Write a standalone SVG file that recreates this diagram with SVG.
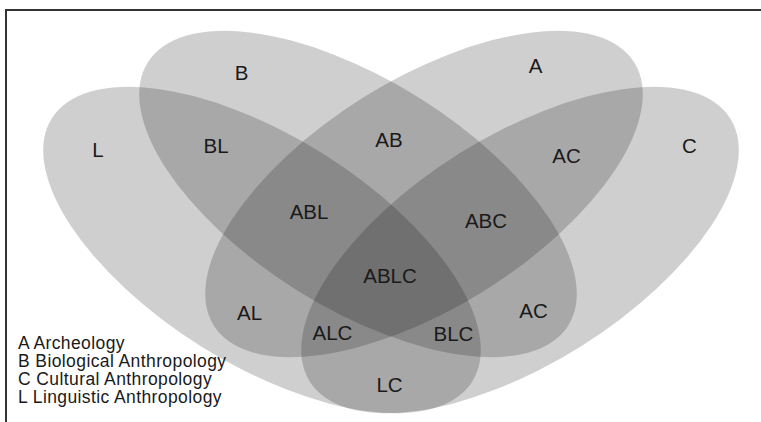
<svg xmlns="http://www.w3.org/2000/svg" width="761" height="422" viewBox="0 0 761 422">
  <defs>
    <style>
      .set { fill: #000004; fill-opacity: 0.19; }
      .lbl { font-family: "Liberation Sans", Arial, Helvetica, sans-serif; font-size: 20.5px; fill: #1a1a1a; text-anchor: middle; }
      .leg { font-family: "Liberation Sans", Arial, Helvetica, sans-serif; font-size: 17.5px; letter-spacing: 0.4px; fill: #1a1a1a; }
      .frame { fill: none; stroke: #333333; stroke-width: 2; }
    </style>
    <filter id="soft" x="-5%" y="-5%" width="110%" height="110%">
      <feGaussianBlur stdDeviation="0.7"/>
    </filter>
  </defs>
  <rect x="0" y="0" width="761" height="422" fill="#ffffff"/>
  <path class="frame" d="M6,422 V10 H761"/>
  <g filter="url(#soft)">
    <g id="set-L"><ellipse class="set" cx="262" cy="250" rx="248" ry="114" transform="rotate(32 262 250)"/></g>
    <g id="set-B"><ellipse class="set" cx="358" cy="194" rx="248" ry="114" transform="rotate(32 358 194)"/></g>
    <g id="set-A"><ellipse class="set" cx="424" cy="194" rx="248" ry="114" transform="rotate(-32 424 194)"/></g>
    <g id="set-C"><ellipse class="set" cx="520" cy="250" rx="248" ry="114" transform="rotate(-32 520 250)"/></g>
  </g>
  <g id="region-labels">
    <text class="lbl" x="98" y="157">L</text>
    <text class="lbl" x="241.5" y="80">B</text>
    <text class="lbl" x="216" y="153">BL</text>
    <text class="lbl" x="309" y="219">ABL</text>
    <text class="lbl" x="389" y="147">AB</text>
    <text class="lbl" x="535.5" y="73">A</text>
    <text class="lbl" x="566.5" y="163">AC</text>
    <text class="lbl" x="689.5" y="153">C</text>
    <text class="lbl" x="486" y="228">ABC</text>
    <text class="lbl" x="390" y="283">ABLC</text>
    <text class="lbl" x="249.5" y="320">AL</text>
    <text class="lbl" x="332.5" y="340">ALC</text>
    <text class="lbl" x="453.5" y="341">BLC</text>
    <text class="lbl" x="533.5" y="318">AC</text>
    <text class="lbl" x="389.5" y="392">LC</text>
  </g>
  <g id="legend">
    <text class="leg" x="18" y="349">A Archeology</text>
    <text class="leg" x="18" y="367">B Biological Anthropology</text>
    <text class="leg" x="18" y="385">C Cultural Anthropology</text>
    <text class="leg" x="18" y="402.5">L Linguistic Anthropology</text>
  </g>
</svg>
